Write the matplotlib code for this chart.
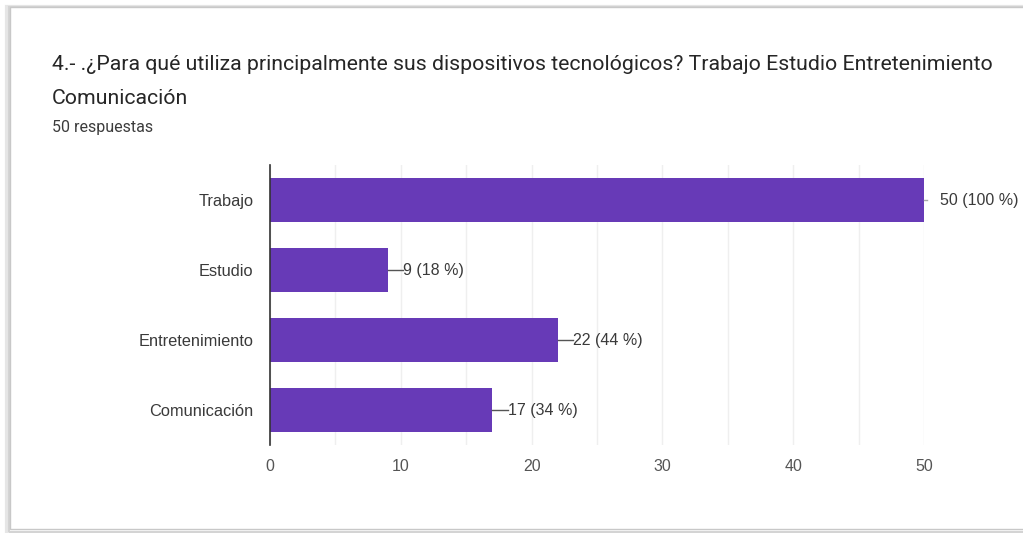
import matplotlib.pyplot as plt
from matplotlib.patches import Rectangle
from matplotlib.ticker import MultipleLocator

# 数据
categorias = ['Trabajo', 'Estudio', 'Entretenimiento', 'Comunicación']
respuestas = [50, 9, 22, 17]
total = 50

plt.rcParams['font.family'] = ['Roboto', 'DejaVu Sans']
fuente_eje = ['Liberation Sans', 'DejaVu Sans']

W, H = 1023, 533
fig = plt.figure(figsize=(W / 100, H / 100), dpi=100)
fig.patch.set_facecolor('white')

# 卡片边框（带一点阴影），放在最底层
for off, col in [(3, '#e6e6e6'), (1.5, '#d4d4d4')]:
    fig.patches.append(Rectangle((10 / W - off / W, (3 - off) / H), 1.2, (H - 10 + off) / H,
                                 transform=fig.transFigure, facecolor='none',
                                 edgecolor=col, linewidth=off, zorder=-2))
fig.patches.append(Rectangle((10 / W, 4 / H), 1.2, (H - 11) / H, transform=fig.transFigure,
                             facecolor='white', edgecolor='#c8c8c8', linewidth=1, zorder=-1))

# 标题
fig.text(52 / W, 1 - 65 / H, '4.- .¿Para qué utiliza principalmente sus dispositivos tecnológicos? Trabajo Estudio Entretenimiento',
         fontsize=15.3, color='#262626', va='center', ha='left')
fig.text(52 / W, 1 - 98 / H, 'Comunicación', fontsize=15.3, color='#262626', va='center', ha='left')
fig.text(52 / W, 1 - 127 / H, '50 respuestas', fontsize=11.5, color='#3c3c3c', va='center', ha='left')

# 坐标区
x0, x1 = 270, 924
y0, y1 = 165, 445
ax = fig.add_axes([x0 / W, 1 - y1 / H, (x1 - x0) / W, (y1 - y0) / H])
ax.patch.set_alpha(0)
pos = list(range(len(categorias)))
bars = ax.barh(pos, respuestas, height=0.63, color='#673ab7', zorder=3)
ax.set_xlim(0, 50)
ax.set_ylim(len(categorias) - 0.5, -0.5)
ax.set_yticks(pos)
ax.set_yticklabels(categorias, fontsize=11.8, color='#3a3a3a', family=fuente_eje)
ax.xaxis.set_major_locator(MultipleLocator(10))
ax.xaxis.set_minor_locator(MultipleLocator(5))
for t in ax.get_xticklabels():
    t.set_family(fuente_eje)
ax.tick_params(axis='x', labelsize=11.5, colors='#555555', length=0, pad=10)
ax.tick_params(axis='y', length=0, pad=12)
ax.tick_params(axis='x', which='minor', length=0)
ax.grid(axis='x', which='both', color='#efefef', linewidth=1, zorder=0)
for s in ['top', 'right', 'bottom']:
    ax.spines[s].set_visible(False)
ax.spines['left'].set_color('#333333')
ax.spines['left'].set_linewidth(1.2)
ax.spines['left'].set_zorder(4)

# 数值标签
for b, v in zip(bars, respuestas):
    y = b.get_y() + b.get_height() / 2
    pct = round(v / total * 100)
    if v == total:
        ax.plot([v, v + 0.25], [y, y], color='#aaaaaa', linewidth=1, clip_on=False, zorder=4)
        xt = v + 1.2
    else:
        ax.plot([v, v + 1.2], [y, y], color='#555555', linewidth=1, clip_on=False, zorder=4)
        xt = v + 1.2
    ax.text(xt, y, f'{v} ({pct} %)', fontsize=11.5,
            color='#3a3a3a', va='center', ha='left', clip_on=False, family=fuente_eje)

fig.savefig('out.png', dpi=100)
